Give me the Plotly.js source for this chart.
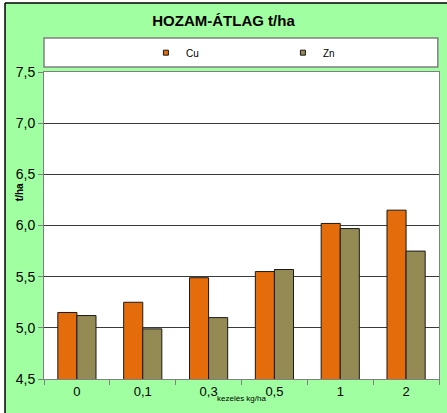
<!DOCTYPE html>
<html>
<head>
<meta charset="utf-8">
<script src="https://cdn.plot.ly/plotly-3.0.1.min.js"></script>
<style>html,body{margin:0;padding:0;background:#fff;}#chart{width:447px;height:413px;}</style>
</head>
<body>
<div id="chart"></div>
<script>
const categories = ["0", "0,1", "0,3", "0,5", "1", "2"];
const cuValues = [5.15, 5.25, 5.49, 5.55, 6.02, 6.15];
const znValues = [5.12, 4.99, 5.10, 5.57, 5.97, 5.75];
const seriesNames = ["Cu", "Zn"];
const yTicks = [4.5, 5.0, 5.5, 6.0, 6.5, 7.0, 7.5];

const FONT = "Liberation Sans Narrow, Arial Narrow, Liberation Sans, Arial, sans-serif";
const cuColor = "#E46C0A";
const znColor = "#948A54";

const traces = [
  {type: "bar", name: seriesNames[0], x: categories, y: cuValues,
   marker: {color: cuColor, line: {color: "#1a1a1a", width: 1}}, showlegend: false},
  {type: "bar", name: seriesNames[1], x: categories, y: znValues,
   marker: {color: znColor, line: {color: "#1a1a1a", width: 1}}, showlegend: false},
  {type: "scatter", mode: "markers", name: seriesNames[0], x: [null], y: [null],
   marker: {symbol: "square", size: 5, color: cuColor, line: {color: "#1a1a1a", width: 1}}},
  {type: "scatter", mode: "markers", name: seriesNames[1], x: [null], y: [null],
   marker: {symbol: "square", size: 5, color: znColor, line: {color: "#1a1a1a", width: 1}}}
];

const layout = {
  width: 447, height: 413,
  margin: {l: 44, r: 8, t: 72, b: 34},
  paper_bgcolor: "#A0FFA0",
  plot_bgcolor: "#FFFFFF",
  separators: ",.",
  barmode: "group",
  bargap: 0.42,
  bargroupgap: 0,
  font: {family: FONT, color: "#000"},
  title: {text: "<b>HOZAM-ÁTLAG t/ha</b>", x: 0.5, xref: "container", y: 0.949, yref: "container",
          yanchor: "middle", font: {size: 15, family: FONT, color: "#000"}},
  xaxis: {type: "category", tickson: "boundaries", ticks: "outside", ticklen: 5,
          tickcolor: "#808080", showline: true, linecolor: "#808080", linewidth: 1, mirror: true,
          tickfont: {size: 13, family: FONT}, showgrid: false},
  yaxis: {range: [4.5, 7.5], tickvals: yTicks, tickformat: ".1f", ticks: "outside", ticklen: 5,
          tickcolor: "#808080", showline: true, linecolor: "#808080", linewidth: 1, mirror: true,
          gridcolor: "#3a3a3a", gridwidth: 1, zeroline: false,
          tickfont: {size: 14, family: FONT}},
  legend: {orientation: "h", x: 0.258, xanchor: "left", y: 1.063, yanchor: "middle",
           entrywidth: 92, entrywidthmode: "pixels", bgcolor: "rgba(0,0,0,0)",
           font: {size: 10, family: FONT}},
  shapes: [
    {type: "rect", xref: "paper", yref: "paper", x0: 0.0, x1: 0.997, y0: 1.0163, y1: 1.1107,
     fillcolor: "#FFFFFF", line: {color: "#808080", width: 1.5}, layer: "below"},
    {type: "rect", xref: "paper", yref: "paper", x0: -0.2, x1: -0.0987, y0: -0.2, y1: 1.3,
     fillcolor: "#FFFFFF", line: {width: 0}},
    {type: "rect", xref: "paper", yref: "paper", x0: -0.2, x1: 1.2, y0: 1.2248, y1: 1.3,
     fillcolor: "#FFFFFF", line: {width: 0}},
    {type: "line", xref: "paper", yref: "paper", x0: -0.0987, x1: -0.0987, y0: -0.2, y1: 1.2248,
     line: {color: "#000", width: 1.5}},
    {type: "line", xref: "paper", yref: "paper", x0: -0.0987, x1: 1.2, y0: 1.2248, y1: 1.2248,
     line: {color: "#000", width: 1.5}}
  ],
  annotations: [
    {text: "<b>t/ha</b>", xref: "paper", yref: "paper", x: -0.063, y: 0.609, textangle: -90,
     showarrow: false, font: {size: 10, family: FONT}, xanchor: "center", yanchor: "middle"},
    {text: "kezelés kg/ha", xref: "paper", yref: "paper", x: 0.499, y: -0.062,
     showarrow: false, font: {size: 8, family: FONT}, xanchor: "center", yanchor: "middle"}
  ]
};

Plotly.newPlot("chart", traces, layout, {displayModeBar: false, staticPlot: true});
</script>
</body>
</html>
